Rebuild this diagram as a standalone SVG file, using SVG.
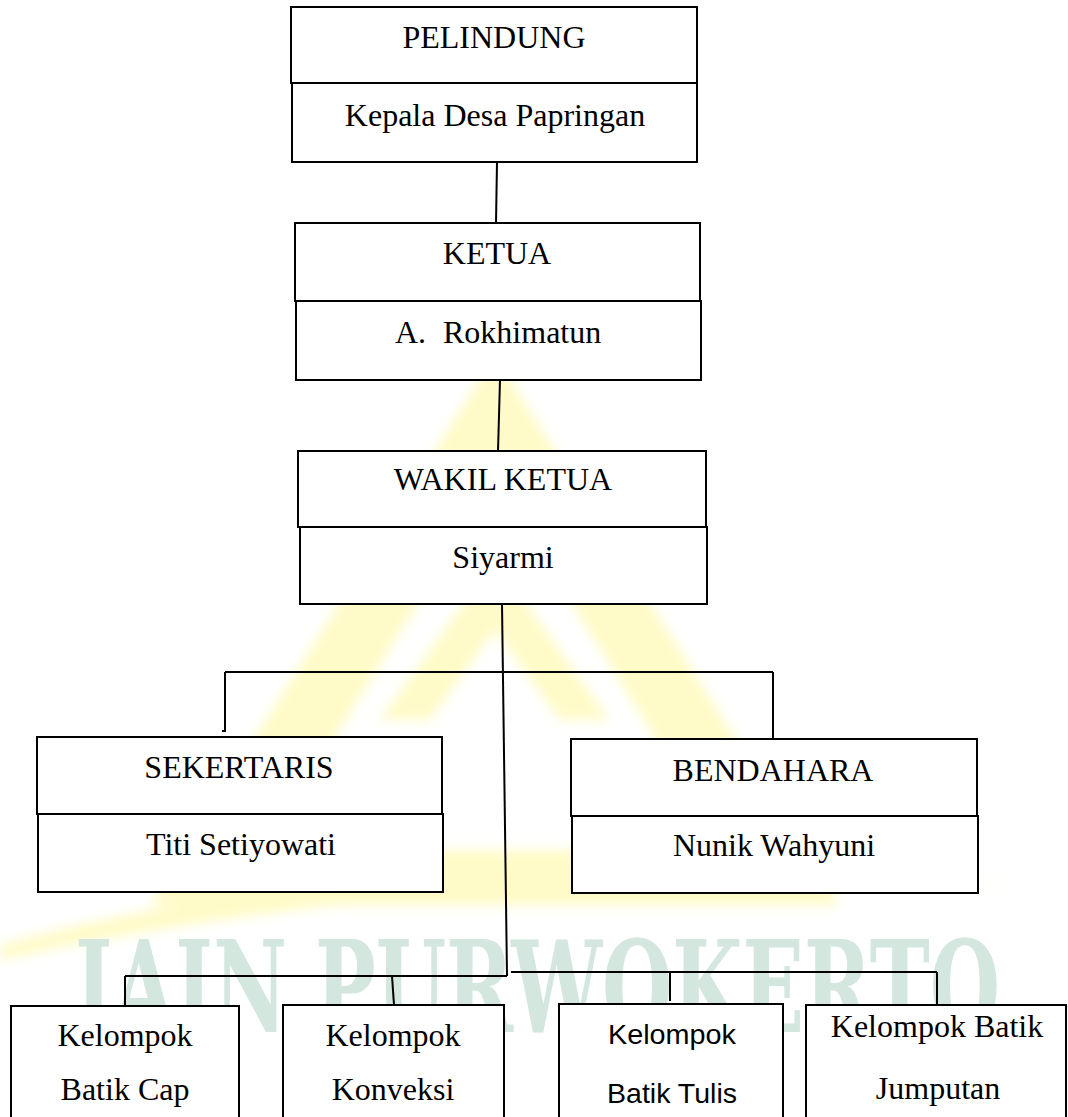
<svg xmlns="http://www.w3.org/2000/svg" width="1068" height="1117" viewBox="0 0 1068 1117">
<style>
.box{fill:#ffffff;stroke:#000000;stroke-width:2}
.ln{stroke:#000000;stroke-width:2;fill:none}
.t{font-family:"Liberation Serif","Times New Roman",serif;font-size:32px;fill:#000000;text-anchor:middle}
.ts{font-family:"Liberation Serif","Times New Roman",serif;font-size:32px;fill:#000000;text-anchor:start}
.s{font-family:"Liberation Sans",Arial,sans-serif;font-size:28px;fill:#000000;text-anchor:middle}
.wm{font-family:"DejaVu Serif","Liberation Serif",serif;font-weight:bold;font-size:128px;fill:#d3e7df}
.ylw{fill:#fffbc8}
</style>
<defs>
  <filter id="soft" x="-10%" y="-10%" width="120%" height="120%"><feGaussianBlur stdDeviation="6"/></filter>
</defs>
<rect width="1068" height="1117" fill="#ffffff"/>
<g id="watermark">
  <g filter="url(#soft)">
    <path class="ylw" d="M495,355 L840,905 L150,905 Z M495,480 L265,850 L725,850 Z" fill-rule="evenodd"/>
    <path class="ylw" d="M380,720 L495,560 L610,720 L560,720 L495,630 L430,720 Z"/>
    <path class="ylw" d="M0,945 Q420,830 1010,885 Q460,860 0,960 Z"/>
  </g>
  <text class="wm" x="75" y="1032" textLength="925" lengthAdjust="spacingAndGlyphs">IAIN PURWOKERTO</text>
</g>
<g id="connectors">
  <line class="ln" x1="497" y1="162" x2="496" y2="223"/>
  <line class="ln" x1="500" y1="380" x2="498" y2="451"/>
  <line class="ln" x1="502" y1="604" x2="507" y2="976"/>
  <line class="ln" x1="225" y1="672" x2="773" y2="672"/>
  <polyline class="ln" points="225,672 225,731 222,731"/>
  <line class="ln" x1="773" y1="672" x2="773" y2="739"/>
  <line class="ln" x1="125" y1="976" x2="507" y2="976"/>
  <line class="ln" x1="125" y1="976" x2="125" y2="1006"/>
  <line class="ln" x1="392" y1="976" x2="394" y2="1005"/>
  <line class="ln" x1="511" y1="972" x2="937" y2="972"/>
  <line class="ln" x1="670" y1="972" x2="670" y2="1001"/>
  <line class="ln" x1="937" y1="972" x2="937" y2="1005"/>
</g>
<g id="pelindung">
  <rect class="box" x="291" y="7" width="406" height="76"/>
  <rect class="box" x="292" y="83" width="405" height="79"/>
  <text class="t" x="494" y="48">PELINDUNG</text>
  <text class="t" x="495" y="126">Kepala Desa Papringan</text>
</g>
<g id="ketua">
  <rect class="box" x="295" y="223" width="405" height="78"/>
  <rect class="box" x="296" y="301" width="405" height="79"/>
  <text class="t" x="497" y="264">KETUA</text>
  <text class="ts" x="395" y="343">A.</text>
  <text class="ts" x="443" y="343">Rokhimatun</text>
</g>
<g id="wakil-ketua">
  <rect class="box" x="298" y="451" width="408" height="76"/>
  <rect class="box" x="300" y="527" width="407" height="77"/>
  <text class="t" x="503" y="490">WAKIL KETUA</text>
  <text class="t" x="503" y="568">Siyarmi</text>
</g>
<g id="sekertaris">
  <rect class="box" x="37" y="737" width="405" height="77"/>
  <rect class="box" x="38" y="814" width="405" height="78"/>
  <text class="t" x="239" y="778">SEKERTARIS</text>
  <text class="t" x="241" y="855">Titi Setiyowati</text>
</g>
<g id="bendahara">
  <rect class="box" x="571" y="739" width="406" height="77"/>
  <rect class="box" x="572" y="816" width="406" height="77"/>
  <text class="t" x="773" y="781">BENDAHARA</text>
  <text class="t" x="774" y="856">Nunik Wahyuni</text>
</g>
<g id="batik-cap">
  <rect class="box" x="11" y="1006" width="228" height="130"/>
  <text class="t" x="125" y="1046">Kelompok</text>
  <text class="t" x="125" y="1100">Batik Cap</text>
</g>
<g id="konveksi">
  <rect class="box" x="283" y="1005" width="221" height="130"/>
  <text class="t" x="393" y="1046">Kelompok</text>
  <text class="t" x="393" y="1100">Konveksi</text>
</g>
<g id="batik-tulis">
  <rect class="box" x="559" y="1004" width="224" height="130"/>
  <text class="s" x="672" y="1044" textLength="128" lengthAdjust="spacingAndGlyphs">Kelompok</text>
  <text class="s" x="672" y="1103" textLength="130" lengthAdjust="spacingAndGlyphs">Batik Tulis</text>
</g>
<g id="jumputan">
  <rect class="box" x="806" y="1005" width="260" height="130"/>
  <text class="t" x="937" y="1037">Kelompok Batik</text>
  <text class="t" x="938" y="1099">Jumputan</text>
</g>
</svg>
